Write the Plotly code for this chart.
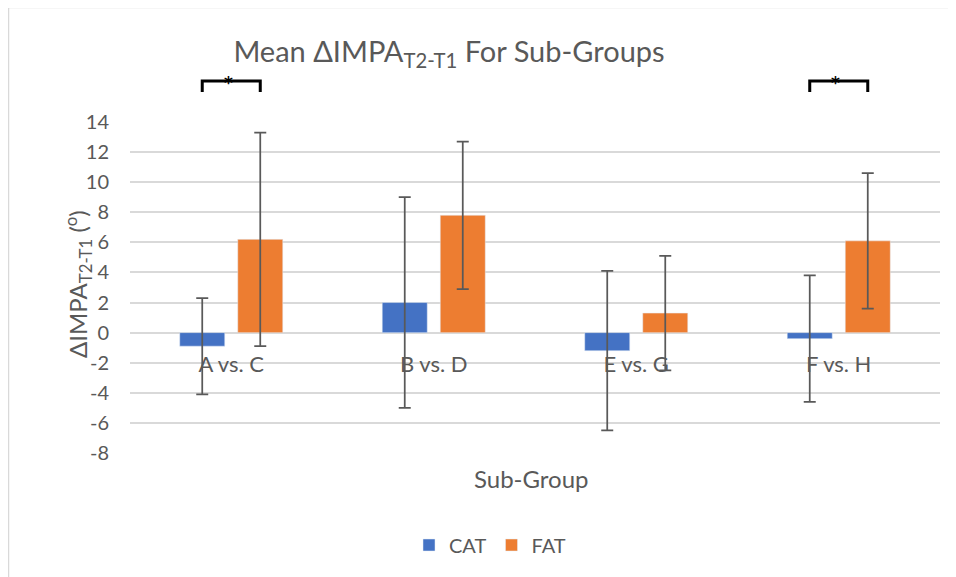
import plotly.graph_objects as go

categories = ["A vs. C", "B vs. D", "E vs. G", "F vs. H"]
cat_means = [-0.9, 2.0, -1.2, -0.4]
cat_err = [3.2, 7.0, 5.3, 4.2]
fat_means = [6.2, 7.8, 1.3, 6.1]
fat_err = [7.1, 4.9, 3.8, 4.5]
significant = [True, False, False, True]
y_ticks = list(range(-8, 15, 2))
y_ticktext = [str(v) for v in y_ticks]

FONT = "Lato"
TXT = "#595959"
GRID = "#d9d9d9"

# page body margin offsets the figure by 8 px; work in screen pixels and convert
OFF = 8
W, H = 956 - OFF, 577 - OFF
PL, PR, PT, PB = 130, 940, 122, 453  # plot area in screen pixels
L, T = PL - OFF, PT - OFF
R = W - (PR - OFF)
B = H - (PB - OFF)
pw = PR - PL
ph = PB - PT
def px_x(p):
    return (p - PL) / pw
def px_y(p):
    return (PB - p) / ph

bargap = 0.427
bargroupgap = 0.224

fig = go.Figure()
fig.add_trace(go.Bar(
    name="CAT", x=categories, y=cat_means,
    marker=dict(color="#4472c4"),
    error_y=dict(type="data", array=cat_err, visible=True, color=TXT, thickness=1.75, width=6),
))
fig.add_trace(go.Bar(
    name="FAT", x=categories, y=fat_means,
    marker=dict(color="#ed7d31"),
    error_y=dict(type="data", array=fat_err, visible=True, color=TXT, thickness=1.75, width=6),
))

ymin, ymax = y_ticks[0], y_ticks[-1]

shapes = []
# chart border
shapes.append(dict(type="rect", xref="paper", yref="paper",
                   x0=px_x(8.5), x1=px_x(1000), y0=px_y(1000), y1=px_y(7.5),
                   line=dict(color="#d9d9d9", width=1.5), fillcolor="rgba(0,0,0,0)", layer="below"))

annotations = []
# significance brackets
half = (1 - bargap) / 4  # offset of each bar centre from category centre
for i, sig in enumerate(significant):
    if not sig:
        continue
    xa = i - half
    xb = i + half
    yt = px_y(81)
    yb = px_y(92)
    shapes.append(dict(type="path", xref="x", yref="paper",
                       path=f"M {xa},{yb} L {xa},{yt} L {xb},{yt} L {xb},{yb}",
                       line=dict(color="black", width=3)))
    annotations.append(dict(x=i - 0.015, y=px_y(83), xref="x", yref="paper", text="<b>*</b>",
                            showarrow=False, font=dict(family="DejaVu Sans", size=17, color="black"),
                            xanchor="center", yanchor="middle"))

# x axis title
annotations.append(dict(x=px_x(531), y=px_y(478), xref="paper", yref="paper", text="Sub-Group",
                        showarrow=False, font=dict(family=FONT, size=24, color=TXT),
                        xanchor="center", yanchor="middle"))
# y axis title
annotations.append(dict(x=px_x(78), y=px_y(284), xref="paper", yref="paper",
                        text="ΔIMPA<sub>T2-T1</sub> (<sup>o</sup>)", textangle=-90,
                        showarrow=False, font=dict(family=FONT, size=24, color=TXT),
                        xanchor="center", yanchor="middle"))

fig.update_layout(
    width=W, height=H,
    margin=dict(l=L, r=R, t=T, b=B),
    paper_bgcolor="white", plot_bgcolor="white",
    barmode="group", bargap=bargap, bargroupgap=bargroupgap,
    font=dict(family=FONT, color=TXT, size=18),
    title=dict(text="Mean ΔIMPA<sub>T2-T1</sub> For Sub-Groups",
               x=(449 - OFF) / W, xanchor="center", xref="container",
               y=1 - (52 - OFF) / H, yanchor="middle", yref="container",
               font=dict(family=FONT, size=29, color=TXT)),
    xaxis=dict(anchor="free", position=(0 - ymin) / (ymax - ymin),
               showgrid=False, showline=False, zeroline=False,
               ticks="outside", ticklen=12, tickcolor="rgba(0,0,0,0)",
               tickfont=dict(family=FONT, size=22, color=TXT)),
    yaxis=dict(range=[ymin, ymax], tickvals=y_ticks, ticktext=y_ticktext,
               showgrid=True, gridcolor=GRID, gridwidth=1.5,
               zeroline=True, zerolinecolor=GRID, zerolinewidth=1.5, showline=False,
               ticks="", ticklabelstandoff=20, tickfont=dict(family=FONT, size=20, color=TXT)),
    legend=dict(orientation="h", x=px_x(490), y=px_y(545), xanchor="center", yanchor="middle",
                font=dict(family=FONT, size=20, color=TXT), traceorder="normal"),
    shapes=shapes, annotations=annotations,
)

fig.write_html("out.html")
